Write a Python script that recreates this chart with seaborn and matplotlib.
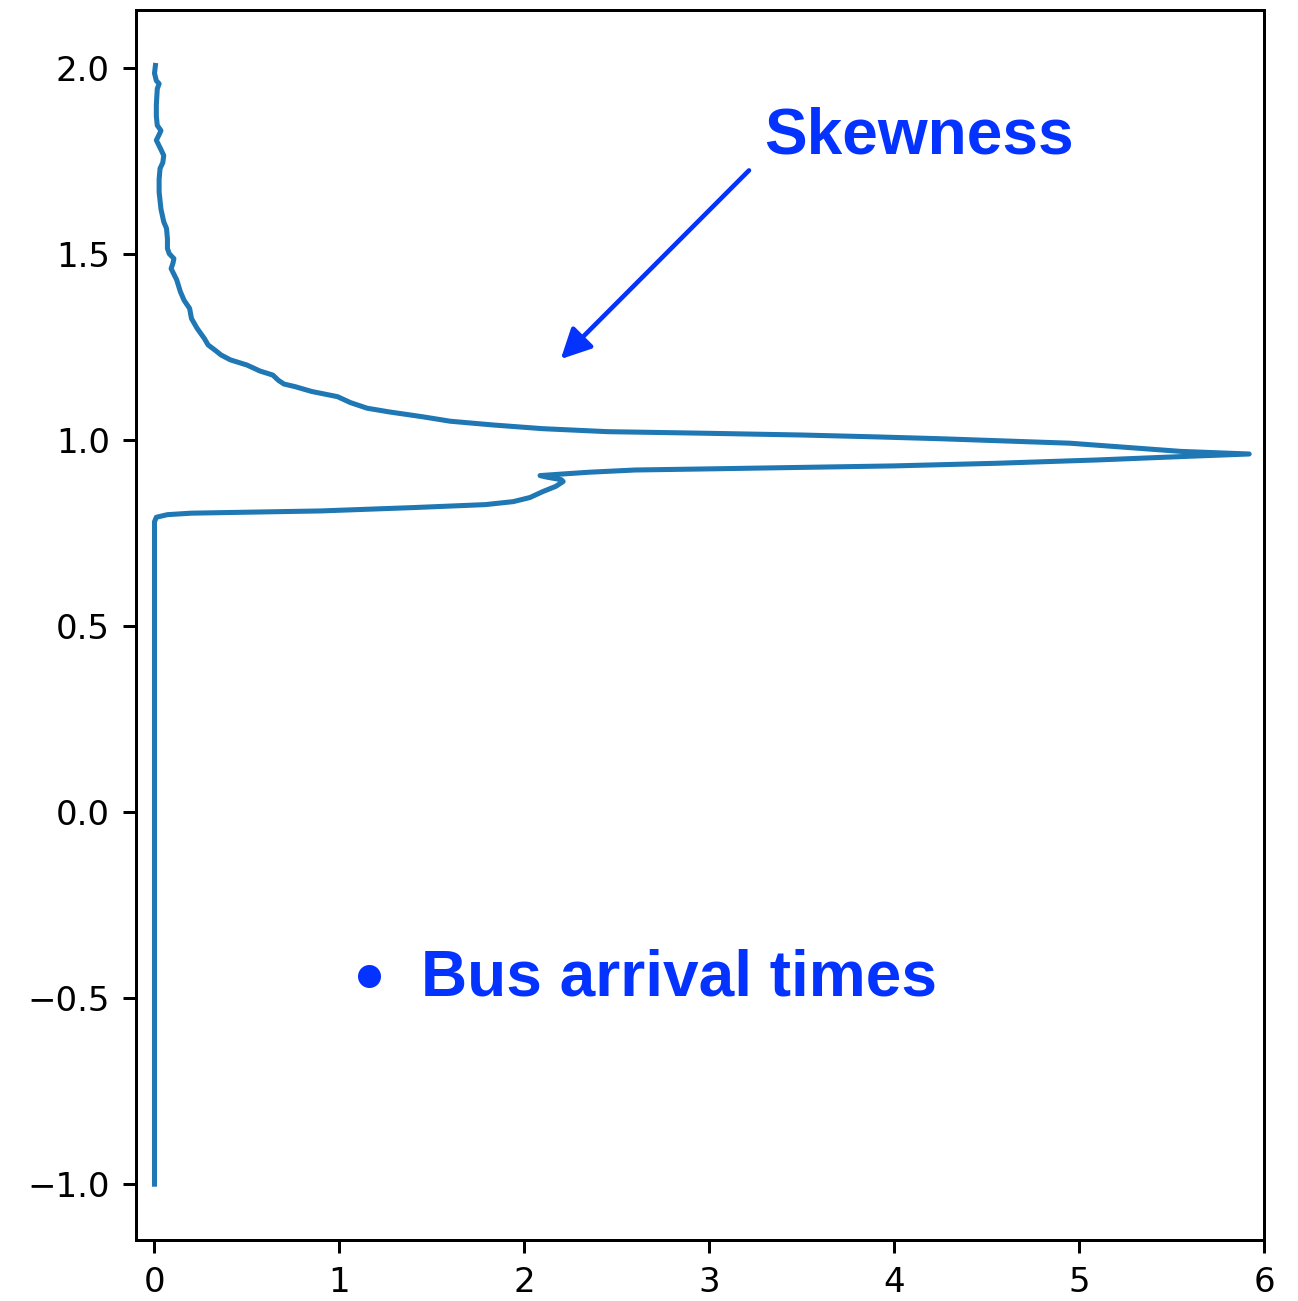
import matplotlib
matplotlib.use("Agg")
import matplotlib.pyplot as plt
from matplotlib.lines import Line2D
import seaborn as sns
import pandas as pd

# Density curve (drawn vertically): value on y axis, density on x axis
values = [
    -1.0, 0.78, 0.792, 0.799, 0.803, 0.809, 0.818, 0.826, 0.834, 0.845,
    0.861, 0.875, 0.888, 0.893, 0.900, 0.904, 0.908, 0.913, 0.919, 0.922,
    0.930, 0.937, 0.946, 0.955, 0.962, 0.969, 0.980, 0.991, 0.997, 1.003,
    1.008, 1.013, 1.018, 1.022, 1.030, 1.040, 1.050, 1.062, 1.075, 1.085,
    1.100, 1.116, 1.130, 1.143, 1.150, 1.160, 1.174, 1.185, 1.201, 1.215,
    1.228, 1.240, 1.255, 1.272, 1.300, 1.326, 1.353, 1.375, 1.398, 1.430,
    1.460, 1.475, 1.487, 1.500, 1.514, 1.540, 1.568, 1.586, 1.620, 1.666,
    1.700, 1.729, 1.745, 1.764, 1.780, 1.805, 1.820, 1.831, 1.845, 1.870,
    1.900, 1.943, 1.957, 1.965, 1.985, 2.006,
]
density = [
    0.0, 0.0, 0.01, 0.07, 0.2, 0.9, 1.4, 1.79, 1.94, 2.03,
    2.10, 2.17, 2.21, 2.20, 2.12, 2.085, 2.2, 2.35, 2.6, 3.0,
    4.0, 4.55, 5.1, 5.55, 5.92, 5.55, 5.25, 4.95, 4.6, 4.25,
    3.9, 3.5, 2.95, 2.45, 2.1, 1.83, 1.6, 1.45, 1.27, 1.15,
    1.06, 0.99, 0.85, 0.76, 0.70, 0.67, 0.64, 0.57, 0.50, 0.41,
    0.36, 0.33, 0.29, 0.27, 0.23, 0.20, 0.19, 0.16, 0.14, 0.12,
    0.09, 0.10, 0.105, 0.08, 0.07, 0.07, 0.065, 0.05, 0.035, 0.025,
    0.025, 0.03, 0.045, 0.05, 0.035, 0.01, 0.025, 0.035, 0.015, 0.01,
    0.01, 0.015, 0.025, 0.01, 0.0, 0.005,
]

xticks = [0, 1, 2, 3, 4, 5, 6]
yticks = [-1.0, -0.5, 0.0, 0.5, 1.0, 1.5, 2.0]

annot_skew = "Skewness"
annot_bullet = "Bus arrival times"
arrow_tail = (3.215, 1.724)
arrow_head = (2.197, 1.217)

df = pd.DataFrame({"density": density, "value": values})

DPI = 227
fig = plt.figure(figsize=(1298 / DPI, 1301 / DPI), dpi=DPI)
ax = fig.add_axes([136 / 1298, 1 - 1240 / 1301, (1264 - 136) / 1298, (1240 - 10) / 1301])

sns.lineplot(data=df, x="density", y="value", sort=False, estimator=None,
             color="#1f77b4", linewidth=1.6, ax=ax)

ax.set_xlim(-0.1, 6.0)
ax.set_ylim(-1.15, 2.155)
ax.set_xticks(xticks)
ax.set_xticklabels([str(t) for t in xticks])
ax.set_yticks(yticks)
ax.set_xlabel("")
ax.set_ylabel("")
ax.tick_params(axis="both", labelsize=10.8, length=4.1, width=0.95, pad=4.2,
               colors="black")
for sp in ax.spines.values():
    sp.set_linewidth(0.95)

blue = "#0433ff"
ax.annotate("", xy=arrow_head, xytext=arrow_tail,
            arrowprops=dict(arrowstyle="-|>", color=blue, lw=1.45,
                            mutation_scale=20, shrinkA=0, shrinkB=0))

fig.text(764 / 1298, 1 - 154 / 1301, annot_skew, fontsize=20.3,
         fontweight="bold", family="Liberation Sans", color=blue, va="baseline")
fig.text(421 / 1298, 1 - 996 / 1301, annot_bullet, fontsize=20.3,
         fontweight="bold", family="Liberation Sans", color=blue, va="baseline")
fig.add_artist(Line2D([369 / 1298], [1 - 976 / 1301], marker="o", markersize=6.3,
                      color=blue, linestyle="none", transform=fig.transFigure))

fig.savefig("out.png", dpi=DPI)
